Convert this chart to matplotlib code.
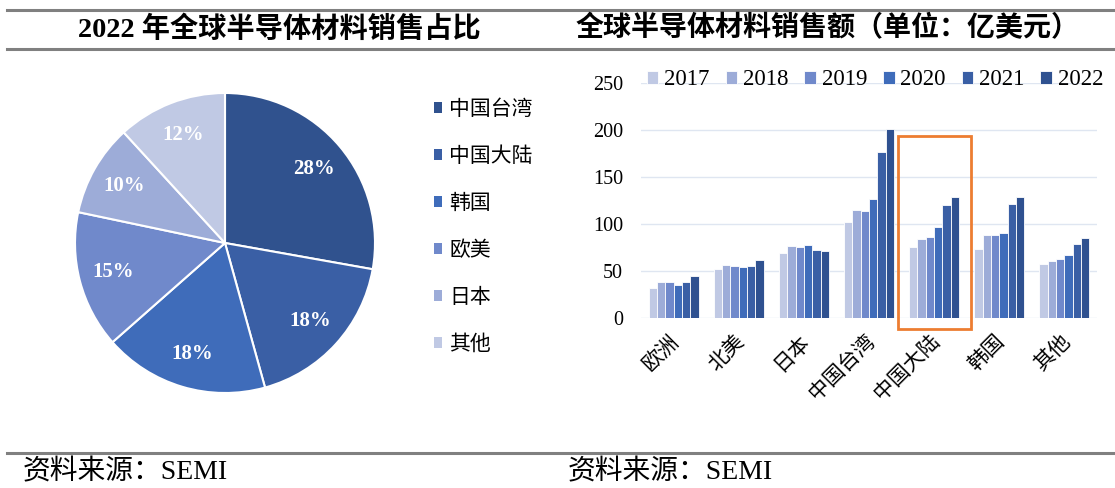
import matplotlib.pyplot as plt
from matplotlib.lines import Line2D
from matplotlib.patches import Patch, Rectangle
from matplotlib.transforms import ScaledTranslation
import numpy as np

plt.rcParams['font.family'] = ['Liberation Serif', 'Noto Sans CJK SC', 'DejaVu Sans']

# pie data (2022 share)
regions = ['中国台湾', '中国大陆', '韩国', '欧美', '日本', '其他']
shares = [27.8, 17.9, 17.8, 14.8, 9.9, 11.8]
pie_colors = ['#30528e', '#3a5fa5', '#3f6cba', '#7089cb', '#9dacd8', '#c0c9e4']

# bar data (亿美元)
cats = ['欧洲', '北美', '日本', '中国台湾', '中国大陆', '韩国', '其他']
years = ['2017', '2018', '2019', '2020', '2021', '2022']
v2017 = [32.6, 52.0, 70.0, 102.0, 75.5, 74.0, 57.4]
v2018 = [38.3, 56.4, 77.3, 115.6, 84.4, 89.0, 61.3]
v2019 = [38.7, 55.3, 76.2, 114.2, 86.5, 88.3, 63.5]
v2020 = [35.5, 54.6, 78.4, 126.6, 97.2, 90.4, 67.0]
v2021 = [39.0, 56.0, 72.3, 177.0, 120.2, 121.3, 78.7]
v2022 = [45.0, 62.0, 71.3, 201.0, 129.0, 128.7, 85.0]
bar_colors = ['#c0c9e4', '#9dacd8', '#7089cb', '#3f6cba', '#3a5fa5', '#2f5190']

W, H = 1115, 488
fig = plt.figure(figsize=(W / 100, H / 100), dpi=100)

# header / footer rules
for yy in [10, 49, 452.5]:
    fig.add_artist(Line2D([7 / W, 1], [1 - yy / H] * 2, color='#808080', lw=2.2))

title_font = ['Liberation Serif', 'Noto Sans CJK SC']
fig.text(279 / W, 1 - 29 / H, '2022 年全球半导体材料销售占比', ha='center', va='center',
         fontsize=20.3, fontweight='bold', family=title_font)
fig.text(828 / W, 1 - 29 / H, '全球半导体材料销售额（单位：亿美元）', ha='center', va='center',
         fontsize=20.2, fontweight='bold', family=title_font)
fig.text(23 / W, 1 - 472 / H, '资料来源：SEMI', ha='left', va='center', fontsize=20, family=title_font)
fig.text(568 / W, 1 - 472 / H, '资料来源：SEMI', ha='left', va='center', fontsize=20, family=title_font)

# ---- pie
ax1 = fig.add_axes([75 / W, 1 - 393 / H, 300 / W, 300 / H])
wedges, texts, autotexts = ax1.pie(shares, colors=pie_colors, startangle=90, counterclock=False,
                                   autopct='%.0f%%', pctdistance=0.77,
                                   wedgeprops=dict(edgecolor='white', linewidth=1.5))
for t in autotexts:
    t.set_color('white')
    t.set_fontsize(15)
    t.set_fontweight('bold')
    t.set_family('Liberation Serif')
ax1.set_xlim(-1, 1)
ax1.set_ylim(-1, 1)

handles = [Patch(facecolor=c, edgecolor='none') for c in pie_colors]
fig.legend(handles, regions, loc='upper left', bbox_to_anchor=(415 / W, 1 - 79 / H),
           frameon=False, prop={'family': 'Noto Sans CJK SC', 'size': 15},
           handlelength=0.4, handleheight=0.4, handletextpad=0.35, labelspacing=1.2)

# ---- bars
ax2 = fig.add_axes([641 / W, 1 - 318.3 / H, 456 / W, 235 / H])
x = np.arange(len(cats))
series = [v2017, v2018, v2019, v2020, v2021, v2022]
bw = 0.128
for i, (vals, c) in enumerate(zip(series, bar_colors)):
    ax2.bar(x + (i - 2.5) * bw, vals, width=bw, color=c, edgecolor='white', linewidth=0.6,
            label=years[i], zorder=3)
ax2.set_xlim(-0.5, len(cats) - 0.5)
ax2.set_ylim(0, 250)
ax2.set_yticks([0, 50, 100, 150, 200, 250])
ax2.yaxis.grid(True, color='#dfe6f1', lw=1, zorder=0)
for s in ax2.spines.values():
    s.set_visible(False)
ax2.tick_params(axis='y', length=0, pad=13, labelsize=14.5)
ax2.tick_params(axis='x', length=0, pad=8)
ax2.set_xticks(x)
ax2.set_xticklabels(cats, rotation=45, ha='right', va='center', rotation_mode='anchor',
                    family='Noto Sans CJK SC', fontsize=15)
off = ScaledTranslation(2 / 100, -8 / 100, fig.dpi_scale_trans)
for lab in ax2.get_xticklabels():
    lab.set_transform(lab.get_transform() + off)

# highlight box around 中国大陆
k = cats.index('中国大陆')
ax2.add_patch(Rectangle((k - 0.56, -11.5), 1.12, 205.5, fill=False, edgecolor='#ed7d31',
                        lw=2, clip_on=False, zorder=4))

ax2.legend(loc='lower left', bbox_to_anchor=(6 / 456, 0.97), ncol=6, frameon=False,
           fontsize=16.5, handlelength=0.5, handleheight=0.5, handletextpad=0.25,
           columnspacing=0.7, borderaxespad=0, borderpad=0)

fig.savefig('out.png', dpi=100)
